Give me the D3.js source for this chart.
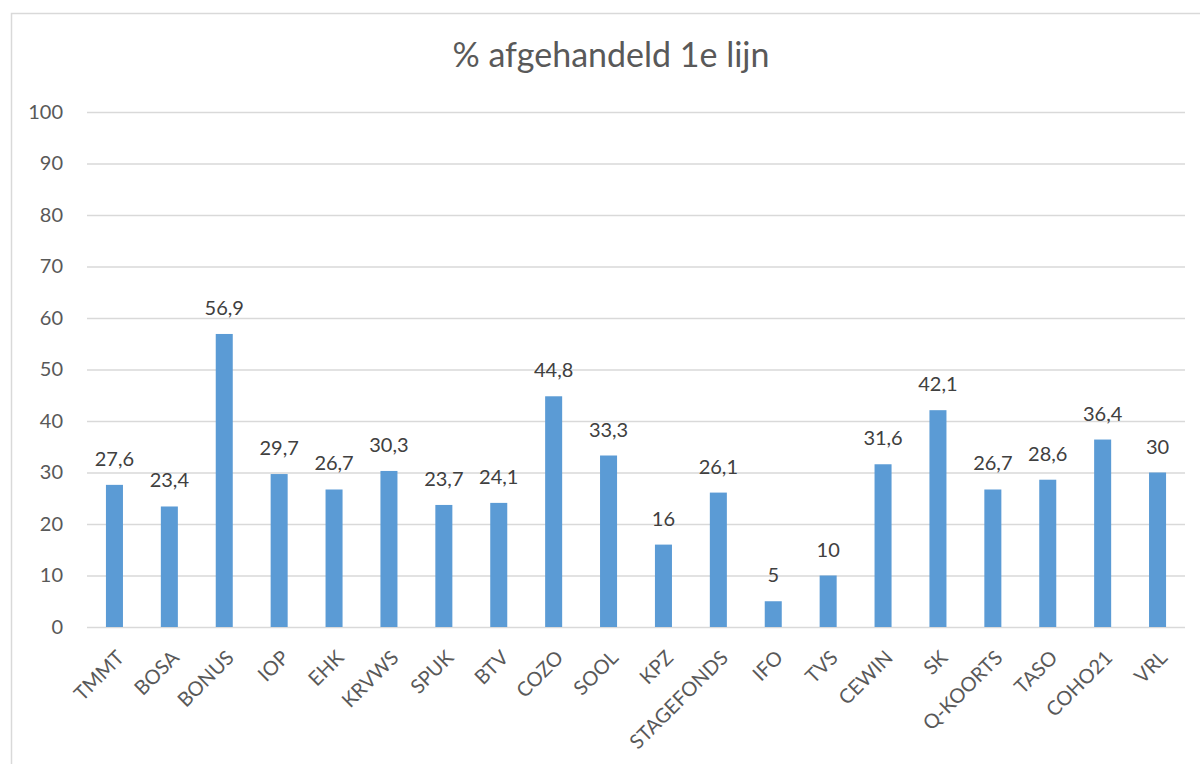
<!DOCTYPE html>
<html><head><meta charset="utf-8">
<script src="https://cdn.jsdelivr.net/npm/d3@7"></script>
<style>body{margin:0;background:#fff}svg{display:block}</style>
</head><body>
<script>
const categories = ["TMMT","BOSA","BONUS","IOP","EHK","KRVWS","SPUK","BTV","COZO","SOOL","KPZ","STAGEFONDS","IFO","TVS","CEWIN","SK","Q-KOORTS","TASO","COHO21","VRL"];
const values = [27.6,23.4,56.9,29.7,26.7,30.3,23.7,24.1,44.8,33.3,16,26.1,5,10,31.6,42.1,26.7,28.6,36.4,30];
const yTicks = [0,10,20,30,40,50,60,70,80,90,100];
const title = "% afgehandeld 1e lijn";

const W = 1200, H = 764;
const font = "Lato, 'Open Sans', sans-serif";
const svg = d3.select("body").append("svg").attr("width", W).attr("height", H);
svg.append("rect").attr("width", W).attr("height", H).attr("fill", "#fff");
svg.append("rect").attr("x", 11.5).attr("y", 13.5).attr("width", W).attr("height", H)
  .attr("fill", "none").attr("stroke", "#d9d9d9").attr("stroke-width", 1.5);

const plotL = 87, plotR = 1185, plotT = 112, plotB = 627;
const x = d3.scaleBand().domain(categories).range([plotL, plotR]).paddingInner(0.69).paddingOuter(0.345);
const y = d3.scaleLinear().domain([0, 100]).range([plotB, plotT]);

svg.append("text").attr("x", 611).attr("y", 67).attr("text-anchor", "middle")
  .attr("font-family", font).attr("font-size", 34).attr("fill", "#595959").text(title);

const yAxis = svg.append("g").attr("transform", `translate(${plotL},0)`)
  .call(d3.axisLeft(y).tickValues(yTicks).tickSize(-(plotR - plotL)).tickPadding(24).tickFormat(d3.format("d")));
yAxis.select(".domain").remove();
yAxis.selectAll(".tick line").attr("stroke", "#d9d9d9").attr("stroke-width", 1.5);
yAxis.selectAll(".tick text").attr("font-family", font).attr("font-size", 20).attr("fill", "#595959");

svg.selectAll(".bar").data(values).join("rect").attr("class", "bar")
  .attr("x", (d, i) => x(categories[i])).attr("width", x.bandwidth())
  .attr("y", d => y(d)).attr("height", d => y(0) - y(d)).attr("fill", "#5b9bd5");

const fmt = v => String(v).replace(".", ",");
svg.selectAll(".lbl").data(values).join("text").attr("class", "lbl")
  .attr("x", (d, i) => x(categories[i]) + x.bandwidth() / 2).attr("y", d => y(d) - 19)
  .attr("text-anchor", "middle").attr("font-family", font).attr("font-size", 20).attr("fill", "#404040")
  .text(fmt);

const xAxis = svg.append("g").attr("transform", `translate(0,${plotB})`)
  .call(d3.axisBottom(x).tickSize(0).tickPadding(0));
xAxis.select(".domain").remove();
xAxis.selectAll(".tick text")
  .attr("font-family", font).attr("font-size", 20).attr("fill", "#595959")
  .attr("text-anchor", "end").attr("dy", 0)
  .attr("transform", "translate(11,32) rotate(-45)");
</script>
</body></html>
